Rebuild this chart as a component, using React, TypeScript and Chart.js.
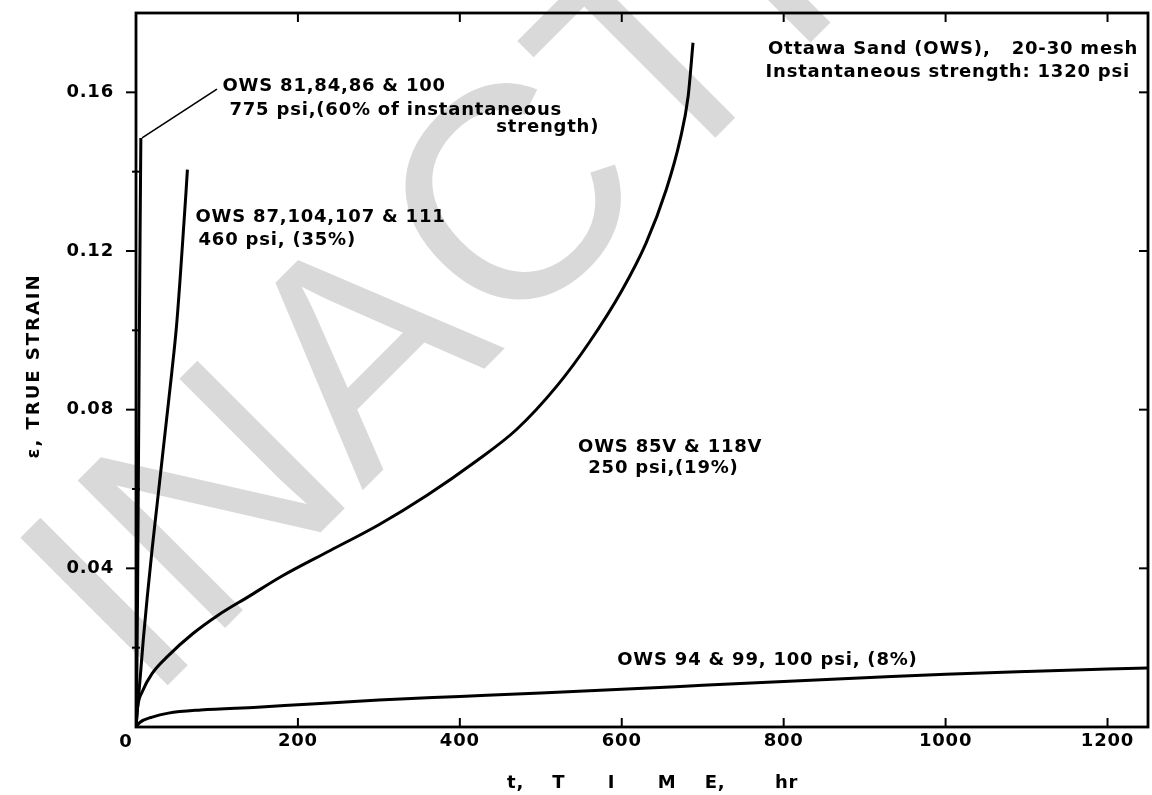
import React, { useEffect, useRef } from 'react';
import { Chart, registerables } from 'chart.js';

Chart.register(...registerables);

// ---- data (hours, true strain) ----
const hours775 = [0, 1, 2, 3, 4, 5, 6];
const strain775 = [0, 0.012, 0.035, 0.065, 0.095, 0.123, 0.1485];

const hours460 = [0, 2, 5, 9, 14, 20, 26, 32, 38, 44, 50, 54.5, 58.5, 61.5, 63.5];
const strain460 = [0, 0.005, 0.012, 0.022, 0.033, 0.045, 0.056, 0.067, 0.078, 0.089, 0.101, 0.113, 0.125, 0.134, 0.1405];

const hours250 = [0, 2, 8, 20, 40, 70, 100, 140, 180, 240, 300, 360, 420, 470, 520, 560, 600, 630, 655, 672, 682, 688];
const strain250 = [0, 0.005, 0.009, 0.0135, 0.018, 0.0235, 0.028, 0.033, 0.038, 0.0445, 0.051, 0.0585, 0.067, 0.075, 0.086, 0.097, 0.11, 0.122, 0.1355, 0.148, 0.159, 0.1725];

const hours100 = [0, 5, 20, 40, 80, 150, 200, 300, 400, 500, 600, 700, 800, 900, 1000, 1100, 1250];
const strain100 = [0, 0.0012, 0.0025, 0.0035, 0.0043, 0.005, 0.0056, 0.0068, 0.0077, 0.0086, 0.0095, 0.0105, 0.0115, 0.0124, 0.0133, 0.014, 0.0149];

const leaderHours = [7.5, 100];
const leaderStrain = [0.1485, 0.1608];

const xMax = 1250;
const yMax = 0.18;
const xStep = 200;
const yStep = 0.02;

const yTitle = 'ε, TRUE STRAIN';
const xTitle = '   t,    T      I      M    E,       hr';
const watermark = 'INACTIVE';

const annotationTexts = [
  'OWS 81,84,86 & 100',
  '775 psi,(60% of instantaneous',
  'strength)',
  'OWS 87,104,107 & 111',
  '460 psi, (35%)',
  'OWS 85V & 118V',
  '250 psi,(19%)',
  'OWS 94 & 99, 100 psi, (8%)',
  'Ottawa Sand (OWS),   20-30 mesh',
  'Instantaneous strength: 1320 psi',
];
const annotationAnchors: { x: number; y: number; align: CanvasTextAlign }[] = [
  { x: 106.8, y: 0.1603, align: 'left' },
  { x: 115.4, y: 0.1544, align: 'left' },
  { x: 572.2, y: 0.1499, align: 'right' },
  { x: 73.5, y: 0.1274, align: 'left' },
  { x: 77.2, y: 0.1216, align: 'left' },
  { x: 546, y: 0.0694, align: 'left' },
  { x: 558.6, y: 0.0641, align: 'left' },
  { x: 594.4, y: 0.01565, align: 'left' },
  { x: 1237.7, y: 0.1696, align: 'right' },
  { x: 1227.8, y: 0.1638, align: 'right' },
];

const FONT = '"DejaVu Sans", sans-serif';
const SPACING = '0.8px';

const toPoints = (xs: number[], ys: number[]) => xs.map((x, i) => ({ x, y: ys[i] }));

const decorPlugin = {
  id: 'decor',
  beforeDraw(chart: any) {
    const ctx: CanvasRenderingContext2D = chart.ctx;
    ctx.save();
    ctx.fillStyle = '#ffffff';
    ctx.fillRect(0, 0, chart.width, chart.height);
    ctx.translate(148, 705);
    ctx.rotate(-Math.PI / 4);
    ctx.font = '303px "Liberation Sans", Arial, sans-serif';
    ctx.fillStyle = '#d9d9d9';
    ctx.textBaseline = 'alphabetic';
    ctx.textAlign = 'left';
    ctx.fillText(watermark, 0, 0);
    ctx.restore();
    (ctx as any).letterSpacing = SPACING;
  },
  afterDraw(chart: any) {
    const ctx: CanvasRenderingContext2D = chart.ctx;
    const { left, right, top, bottom } = chart.chartArea;
    const xs = chart.scales.x;
    const ys = chart.scales.y;
    const line = (x1: number, y1: number, x2: number, y2: number) => {
      ctx.beginPath();
      ctx.moveTo(x1, y1);
      ctx.lineTo(x2, y2);
      ctx.stroke();
    };
    ctx.save();
    ctx.strokeStyle = '#000';
    ctx.lineWidth = 2.8;
    ctx.strokeRect(left, top, right - left, bottom - top);
    ctx.lineWidth = 2;
    xs.ticks.forEach((t: any) => {
      if (t.value <= 0) return;
      const px = xs.getPixelForValue(t.value);
      line(px, bottom, px, bottom - 9);
      line(px, top, px, top + 9);
    });
    ys.ticks.forEach((t: any) => {
      if (t.value <= 0 || t.value >= yMax - 0.001) return;
      const py = ys.getPixelForValue(t.value);
      const major = Math.round(t.value * 100) % 4 === 0;
      if (major) {
        line(left - 10, py, left, py);
        line(right, py, right - 9, py);
      } else {
        line(left - 4, py, left + 4, py);
      }
    });
    ctx.fillStyle = '#000';
    ctx.font = `bold 18px ${FONT}`;
    (ctx as any).letterSpacing = SPACING;
    ctx.textBaseline = 'alphabetic';
    annotationTexts.forEach((txt, i) => {
      const a = annotationAnchors[i];
      ctx.textAlign = a.align;
      ctx.fillText(txt, xs.getPixelForValue(a.x), ys.getPixelForValue(a.y));
    });
    ctx.textAlign = 'center';
    ctx.fillText('0', xs.getPixelForValue(0) - 10, 747);
    // y-axis title
    ctx.save();
    ctx.translate(34, (top + bottom) / 2 - 4);
    ctx.rotate(-Math.PI / 2);
    (ctx as any).letterSpacing = '2px';
    ctx.textAlign = 'center';
    ctx.textBaseline = 'middle';
    ctx.fillText(yTitle, 0, 0);
    ctx.restore();
    ctx.restore();
    (ctx as any).letterSpacing = '0px';
  },
};

export default function App() {
  const ref = useRef<HTMLCanvasElement>(null);
  useEffect(() => {
    document.body.style.margin = '0';
    const lineStyle = {
      borderColor: '#000',
      borderWidth: 3,
      pointRadius: 0,
      fill: false,
      cubicInterpolationMode: 'monotone' as const,
    };
    const tickFont = { family: FONT, size: 18, weight: 'bold' as const };
    const chart = new Chart(ref.current!, {
      type: 'line',
      data: {
        datasets: [
          { ...lineStyle, label: '775 psi', data: toPoints(hours775, strain775) },
          { ...lineStyle, label: '460 psi', data: toPoints(hours460, strain460) },
          { ...lineStyle, label: '250 psi', data: toPoints(hours250, strain250) },
          { ...lineStyle, label: '100 psi', data: toPoints(hours100, strain100) },
          { ...lineStyle, label: 'leader', borderWidth: 1.6, tension: 0, cubicInterpolationMode: 'default' as const, data: toPoints(leaderHours, leaderStrain) },
        ],
      },
      options: {
        responsive: false,
        animation: false,
        devicePixelRatio: 1,
        layout: { padding: { left: 0, top: 13, right: 4, bottom: 0 } },
        plugins: { legend: { display: false }, tooltip: { enabled: false } },
        scales: {
          x: {
            type: 'linear',
            min: 0,
            max: xMax,
            afterFit: (s: any) => { s.height = 68; s.paddingLeft = 0; s.paddingRight = 0; },
            grid: { display: false, drawTicks: false },
            border: { display: false },
            ticks: {
              stepSize: xStep,
              includeBounds: false,
              autoSkip: false,
              maxRotation: 0,
              padding: 4,
              color: '#000',
              font: tickFont,
              callback: (v: any) => (Number(v) === 0 ? '' : String(v)),
            },
            title: { display: true, text: xTitle, color: '#000', font: tickFont, padding: { top: 0, bottom: 1 } },
          },
          y: {
            type: 'linear',
            min: 0,
            max: yMax,
            afterFit: (s: any) => { s.width = 136; s.paddingTop = 0; s.paddingBottom = 0; },
            grid: { display: false, drawTicks: false },
            border: { display: false },
            ticks: {
              stepSize: yStep,
              includeBounds: false,
              autoSkip: false,
              padding: 22,
              color: '#000',
              font: tickFont,
              callback: (v: any) => {
                const n = Math.round(Number(v) * 100);
                return n > 0 && n % 4 === 0 && n <= 16 ? (n / 100).toFixed(2) : '';
              },
            },
            title: { display: false, text: yTitle },
          },
        },
      },
      plugins: [decorPlugin],
    } as any);
    return () => chart.destroy();
  }, []);
  return (
    <div style={{ width: 1152, height: 795, background: '#fff' }}>
      <canvas ref={ref} width={1152} height={795} style={{ display: 'block', width: 1152, height: 795 }} />
    </div>
  );
}
